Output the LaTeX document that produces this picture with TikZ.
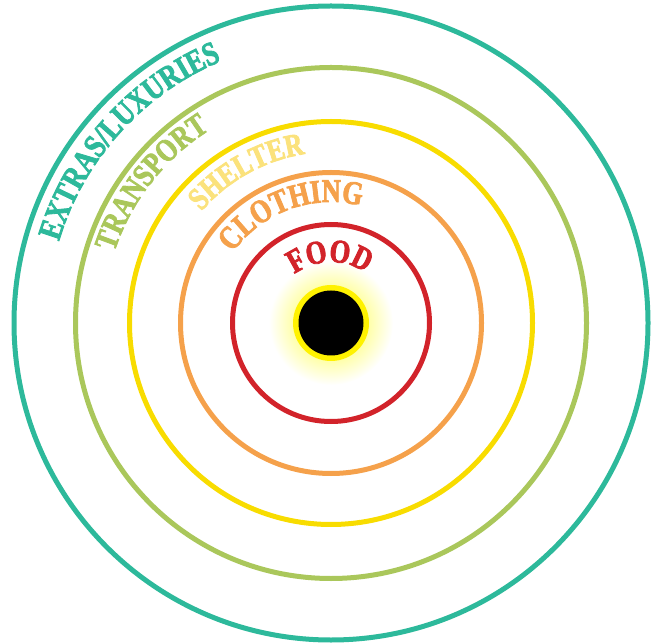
\documentclass[tikz,border=0pt]{standalone}
\usepackage{fontspec}
\setmainfont{Liberation Serif}
\newfontfamily\ringfont{Liberation Serif}[UprightFont=* Bold, FakeStretch=0.8, FakeBold=2.5]
\usetikzlibrary{decorations.text}

\definecolor{ringteal}{HTML}{2DB99B}
\definecolor{ringgreen}{HTML}{AAC75B}
\definecolor{ringyellow}{HTML}{F8DC00}
\definecolor{shelteryellow}{HTML}{FBE27C}
\definecolor{ringorange}{HTML}{F5A14B}
\definecolor{ringred}{HTML}{D2232A}

\begin{document}
\begin{tikzpicture}[
  x=1pt, y=1pt,
  ring/.style={line width=5pt},
  arclabel/.style={decorate, decoration={text along path, text align=center,
                   text={#1}}},
]
\useasboundingbox (0,0) rectangle (658,643);
\coordinate (c) at (331,320);

% glow and core
\shade[inner color=yellow!85, outer color=white] (c) circle[radius=62];
\fill[yellow] (c) circle[radius=38];
\fill[black] (c) circle[radius=32.5];

% rings, inside out
\draw[ring, ringred]    (c) circle[radius=98.5];
\draw[ring, ringorange] (c) circle[radius=150.5];
\draw[ring, ringyellow] (c) circle[radius=201.5];
\draw[ring, ringgreen]  (c) circle[radius=255.5];
\draw[ring, ringteal]   (c) circle[radius=317];

% curved labels
\path[arclabel={|\ringfont\fontsize{33}{33}\selectfont\color{ringteal}|EXTRAS/LUXURIES}]
  (c) ++(176:284) arc[start angle=176, end angle=100, radius=284];
\path[arclabel={|\ringfont\fontsize{32}{32}\selectfont\color{ringgreen}|TRANSPORT}]
  (c) ++(181:228) arc[start angle=181, end angle=103, radius=228];
\path[arclabel={|\ringfont\fontsize{32}{32}\selectfont\color{shelteryellow}|SHELTER}]
  (c) ++(160:171) arc[start angle=160, end angle=78, radius=171];
\path[arclabel={|\ringfont\fontsize{33}{33}\selectfont\color{ringorange}|CLOTHING}]
  (c) ++(160:121) arc[start angle=160, end angle=60, radius=121];
\path[arclabel={|\ringfont\fontsize{33}{33}\selectfont\color{ringred}|FOOD}]
  (c) ++(150:61) arc[start angle=150, end angle=32, radius=61];

\end{tikzpicture}
\end{document}
